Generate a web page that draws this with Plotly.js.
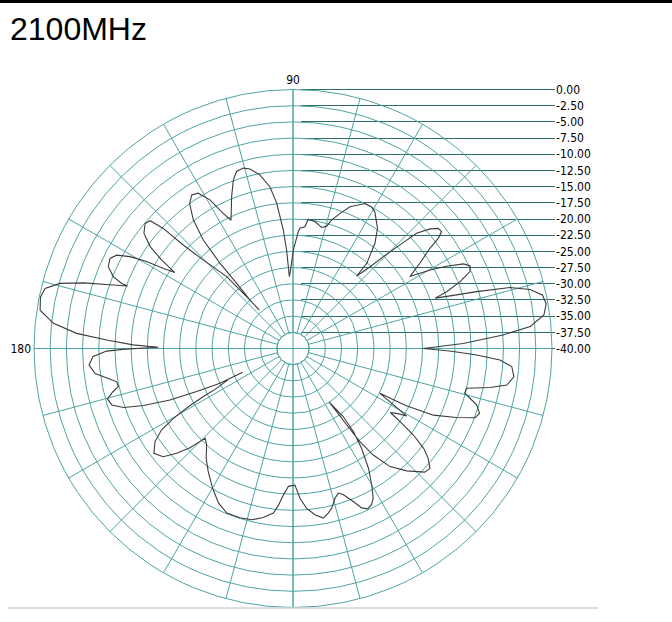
<!DOCTYPE html>
<html>
<head>
<meta charset="utf-8">
<script src="https://cdn.plot.ly/plotly-3.0.1.min.js"></script>
<style>html,body{margin:0;padding:0;background:#fff;}#chart{width:672px;height:622px;}</style>
</head>
<body>
<div id="chart"></div>
<script>
// ---- data (angle in degrees, gain in dB) ----
const thetaQ1 = [0, 1.7, 3.7, 5.3, 7.6, 10.0, 12.1, 14.0, 15.7, 17.2, 18.5, 19.5, 20.3, 21.8, 23.5, 25.0, 26.4, 28.2, 29.8, 31.6, 33.9, 36.2, 37.2, 38.2, 39.6, 41.1, 43.0, 44.1, 45.5, 46.7, 48.7, 49.1, 52.1, 54.9, 59.1, 61.0, 63.6, 68.1, 70.8, 73.3, 74.6, 76.7, 80.2, 83.3, 84.4, 86.7, 87.4, 89.8];
const gainQ1  = [-19.9, -13.7, -7.5, -3.2, -0.9, -0.3, -0.6, -2.3, -5.2, -10.3, -14.4, -16.7, -14.7, -12.2, -10.2, -9.8, -10.6, -13.1, -15.6, -18.8, -16.4, -13.8, -11.8, -10.8, -10.9, -11.9, -13.9, -17.0, -20.1, -22.7, -25.1, -22.6, -19.4, -17.3, -15.4, -15.0, -15.0, -16.4, -17.9, -19.3, -20.4, -20.8, -20.1, -19.9, -21.1, -21.4, -21.9, -24.8];

const thetaQ2 = [92.3, 92.9, 93.7, 94.7, 96.4, 98.1, 100.8, 103.5, 105.4, 107.7, 109.5, 112.0, 115.8, 117.3, 119.2, 121.4, 123.4, 125.5, 127.8, 129.6, 130.6, 130.8, 131.6, 131.2, 131.8, 132.7, 135.4, 136.7, 137.2, 138.2, 139.8, 142.3, 144.5, 146.0, 147.3, 148.3, 149.3, 150.6, 152.1, 153.8, 156.1, 158.2, 159.2, 159.3, 160.5, 162.6, 164.4, 166.4, 168.5, 171.4, 174.0, 176.0, 177.4, 178.7, 179.5];
const gainQ2  = [-28.4, -28.9, -24.8, -21.6, -17.4, -14.8, -12.7, -11.5, -11.1, -11.3, -12.4, -14.7, -18.0, -16.5, -13.7, -11.9, -11.6, -12.5, -14.9, -18.3, -22.7, -26.7, -30.0, -32.1, -29.3, -24.9, -20.5, -16.7, -12.7, -10.4, -10.1, -10.9, -12.9, -15.5, -18.3, -16.5, -13.7, -11.1, -9.2, -8.5, -8.8, -10.1, -11.7, -12.7, -10.6, -6.1, -2.6, -0.6, -0.2, -0.5, -2.8, -6.5, -11.2, -15.3, -19.2];

const thetaQ3 = [180.2, 180.8, 182.3, 184.6, 187.2, 189.2, 190.7, 192.3, 193.5, 195.2, 197.3, 199.2, 200.9, 202.7, 204.1, 205.5, 205.3, 205.3, 207.6, 208.2, 209.1, 210.3, 211.8, 214.0, 217.0, 219.8, 222.0, 223.9, 225.6, 228.2, 231.6, 235.5, 240.1, 244.3, 248.1, 252.6, 256.5, 260.0, 263.2, 264.7, 266.2, 268.1, 270.8];
const gainQ3  = [-14.1, -11.2, -9.1, -8.4, -9.2, -11.1, -12.3, -12.4, -11.4, -10.3, -10.7, -12.3, -15.3, -19.4, -23.7, -27.5, -31.4, -29.2, -26.7, -24.3, -21.5, -18.6, -16.1, -14.3, -13.1, -13.9, -15.8, -17.9, -20.6, -20.0, -18.4, -16.9, -15.1, -13.5, -12.6, -12.6, -12.8, -13.5, -14.4, -15.7, -17.3, -18.7, -18.9];

const thetaQ4 = [272.7, 274.9, 277.5, 280.1, 282.1, 283.6, 285.7, 287.4, 289.0, 291.5, 293.3, 294.9, 296.7, 298.2, 300.0, 302.2, 304.5, 306.0, 306.4, 304.0, 304.7, 305.1, 305.7, 307.0, 309.4, 312.9, 316.8, 318.8, 320.9, 322.6, 324.3, 325.5, 326.7, 328.0, 329.3, 332.7, 333.2, 334.6, 337.1, 339.2, 340.8, 342.9, 344.3, 345.4, 347.1, 348.8, 350.3, 352.7, 355.3, 356.8, 358.0, 359.1, 360];
const gainQ4  = [-16.8, -15.2, -14.1, -13.4, -14.0, -14.6, -16.0, -16.6, -16.1, -14.6, -13.2, -12.7, -13.0, -13.8, -15.7, -18.1, -21.3, -24.1, -26.9, -30.0, -28.1, -25.6, -22.3, -19.4, -16.4, -14.2, -12.1, -11.9, -13.1, -14.6, -17.1, -19.6, -22.0, -21.1, -19.6, -24.9, -20.5, -16.0, -12.6, -9.9, -9.5, -10.3, -11.6, -12.6, -12.5, -9.0, -6.5, -5.6, -6.1, -8.0, -11.6, -15.8, -19.9];

// scale labels and grid
const scaleValues = [0, -2.5, -5, -7.5, -10, -12.5, -15, -17.5, -20, -22.5, -25, -27.5, -30, -32.5, -35, -37.5, -40];
const scaleLabels = ["0.00", "-2.50", "-5.00", "-7.50", "-10.00", "-12.50", "-15.00", "-17.50", "-20.00", "-22.50", "-25.00", "-27.50", "-30.00", "-32.50", "-35.00", "-37.50", "-40.00"];
const spokeAngles = [0, 15, 30, 45, 60, 75, 90, 105, 120, 135, 150, 165, 180, 195, 210, 225, 240, 255, 270, 285, 300, 315, 330, 345];
const spokeLabels = ["", "", "", "", "", "", "90", "", "", "", "", "", "180", "", "", "", "", "", "", "", "", "", "", ""];
const axisAngles = [0, 90, 180, 270];

const theta = thetaQ1.concat(thetaQ2, thetaQ3, thetaQ4);
const gain = gainQ1.concat(gainQ2, gainQ3, gainQ4);

// ---- geometry ----
const W = 672, H = 622;
const CX = 293, CY = 348.5, R = 259;
const RMIN = -40, RMAX = 0;
const pxPerDb = R / (RMAX - RMIN);
const GRID = '#4ea4a4';
const LEAD = '#2f6e6e';
const small = {family: 'Liberation Sans Narrow, DejaVu Sans Condensed, Arial Narrow, Liberation Sans, sans-serif', size: 12, color: '#000'};

const polarDomain = {
  x: [(CX - R) / W, (CX + R) / W],
  y: [(H - CY - R) / H, (H - CY + R) / H]
};
const pad = 0.5;
const yTopPx = CY - (RMAX + pad - RMIN) * pxPerDb;
const yBotPx = CY + pad * pxPerDb;

const traces = [
  {type: 'scatter', x: [], y: [], xaxis: 'x', yaxis: 'y', hoverinfo: 'skip', showlegend: false},
  {type: 'scatterpolar', subplot: 'polar', r: [-20], theta: [0], mode: 'markers',
   marker: {size: 1, color: 'rgba(0,0,0,0)'}, hoverinfo: 'skip', showlegend: false},
  {type: 'scatterpolar', subplot: 'polar2', r: gain, theta: theta, mode: 'lines',
   line: {color: '#3c3c3c', width: 1.1}, hoverinfo: 'skip', showlegend: false}
];

const layout = {
  width: W, height: H,
  margin: {l: 0, r: 0, t: 0, b: 0},
  paper_bgcolor: '#fff', plot_bgcolor: 'rgba(0,0,0,0)',
  showlegend: false,
  title: {text: '2100MHz', x: 10 / W, xanchor: 'left', xref: 'paper', yref: 'container',
          y: 1 - 29 / H, yanchor: 'middle',
          font: {family: 'Liberation Sans, Arial, sans-serif', size: 32, color: '#000'}},
  xaxis: {domain: [301 / W, 555 / W], range: [0, 1], showgrid: false, zeroline: false,
          showticklabels: false, showline: false, ticks: '', fixedrange: true},
  yaxis: {domain: [(H - yBotPx) / H, (H - yTopPx) / H], range: [RMIN - pad, RMAX + pad], side: 'right',
          tickmode: 'array', tickvals: scaleValues, ticktext: scaleLabels,
          showgrid: true, gridcolor: LEAD, gridwidth: 1, zeroline: false, showline: false,
          ticks: '', tickfont: small, fixedrange: true},
  polar: {
    domain: polarDomain, hole: 1 / 16, bgcolor: 'rgba(0,0,0,0)',
    radialaxis: {range: [-37.5, 0], tickmode: 'array', tickvals: scaleValues.slice(1, 15),
                 showgrid: true, gridcolor: GRID, gridwidth: 1, showline: false,
                 showticklabels: false, ticks: ''},
    angularaxis: {rotation: 0, direction: 'counterclockwise', tickmode: 'array',
                  tickvals: spokeAngles, ticktext: spokeLabels, showgrid: true, gridcolor: GRID,
                  gridwidth: 1, showline: true, linecolor: GRID, linewidth: 1, ticks: '',
                  tickfont: small}
  },
  polar2: {
    domain: polarDomain, bgcolor: 'rgba(0,0,0,0)',
    radialaxis: {range: [RMIN, RMAX], tickmode: 'array', tickvals: [-37.5],
                 showgrid: true, gridcolor: GRID, gridwidth: 1, showline: false,
                 showticklabels: false, ticks: ''},
    angularaxis: {rotation: 0, direction: 'counterclockwise', tickmode: 'array',
                  tickvals: axisAngles, showgrid: true, gridcolor: GRID, gridwidth: 1,
                  showline: false, showticklabels: false, ticks: ''}
  },
  shapes: [
    {type: 'rect', xref: 'paper', yref: 'paper', x0: 0, x1: 1, y0: 1 - 3 / H, y1: 1,
     fillcolor: '#000', line: {width: 0}},
    {type: 'line', xref: 'paper', yref: 'paper', x0: 8 / W, x1: 598 / W, y0: 1 - 608 / H, y1: 1 - 608 / H,
     line: {color: '#d3d3d3', width: 1.5}}
  ]
};

Plotly.newPlot('chart', traces, layout, {displayModeBar: false, staticPlot: true});
</script>
</body>
</html>
